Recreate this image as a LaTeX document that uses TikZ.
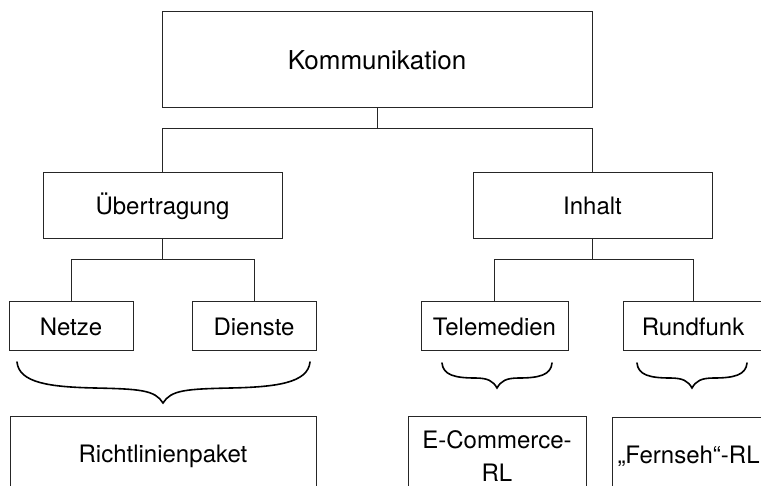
\documentclass[tikz,border=0pt]{standalone}
\usepackage{fontspec}
\setmainfont{TeX Gyre Heros}
\begin{document}
\begin{tikzpicture}[x=1pt,y=-1pt,
  box/.style={draw=black!85, line width=1pt, rectangle, inner sep=0pt, align=center, font=\fontsize{24}{33}\selectfont},
  conn/.style={draw=black!85, line width=1pt},
  bracepath/.style={draw=black, line width=1.6pt, line cap=round}]
\useasboundingbox (0,0) rectangle (761,486);
\clip (0,0) rectangle (761,486);
% level 1
\node[box, minimum width=430pt, minimum height=96pt, font=\fontsize{26}{31}\selectfont] (kom) at (377,60) {Kommunikation};
% level 2
\node[box, minimum width=239pt, minimum height=66pt] (ueb) at (162.5,206) {Übertragung};
\node[box, minimum width=239pt, minimum height=66pt] (inh) at (592.5,206) {Inhalt};
% level 3
\node[box, minimum width=124pt, minimum height=49pt] (netze) at (71,326.5) {Netze};
\node[box, minimum width=124pt, minimum height=49pt] (dienste) at (254,326.5) {Dienste};
\node[box, minimum width=147pt, minimum height=49pt] (tele) at (494.5,326.5) {Telemedien};
\node[box, minimum width=140pt, minimum height=49pt] (rund) at (693,326.5) {Rundfunk};
% level 4
\node[box, minimum width=306pt, minimum height=78pt] (rlp) at (163,456) {Richtlinienpaket};
\node[box, minimum width=178pt, minimum height=78pt] (ecom) at (497,456) {E-Commerce-\\RL};
\node[box, anchor=north west, minimum width=200pt, minimum height=78pt, text width=190pt, align=left] (fern) at (612,417) {„Fernseh“-RL};
% connectors
\coordinate (j1) at (377,129);
\coordinate (j2) at (0,260);
\draw[conn] (kom.south) -- (j1);
\draw[conn] (ueb.north) |- (inh.north |- j1) -- (inh.north);
\draw[conn] (ueb.south) -- (ueb.south |- j2);
\draw[conn] (netze.north) |- (dienste.north |- j2) -- (dienste.north);
\draw[conn] (inh.south) -- (inh.south |- j2);
\draw[conn] (tele.north) |- (rund.north |- j2) -- (rund.north);
% braces
\draw[bracepath] (17,362) .. controls (19,383) and (50,387) .. (95,388)
  .. controls (140,389) and (155,390) .. (163,403)
  .. controls (171,390) and (186,389) .. (231,388)
  .. controls (276,387) and (308,383) .. (310,362);
\draw[bracepath] (442,363) .. controls (443,375) and (455,378) .. (475,378)
  .. controls (488,378) and (493,381) .. (497,388)
  .. controls (501,381) and (506,378) .. (519,378)
  .. controls (539,378) and (551,375) .. (552,363);
\draw[bracepath] (637,363) .. controls (638,375) and (650,378) .. (670,378)
  .. controls (683,378) and (688,381) .. (692,388)
  .. controls (696,381) and (701,378) .. (714,378)
  .. controls (734,378) and (746,375) .. (747,363);
\end{tikzpicture}
\end{document}
